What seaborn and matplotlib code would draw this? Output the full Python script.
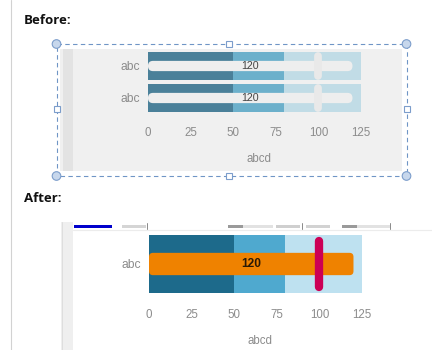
import matplotlib
matplotlib.use("Agg")
import matplotlib.pyplot as plt
from matplotlib.patches import Rectangle, Circle, FancyBboxPatch
import seaborn as sns

sns.set_theme(style="white")
plt.rcParams["font.family"] = ["Liberation Sans", "DejaVu Sans"]

# ---- data ----
before_rows = ["abc", "abc"]
before_values = [120, 120]
before_targets = [100, 100]

after_rows = ["abc"]
after_values = [120]
after_targets = [100]

range_bounds = [50, 80, 125]          # poor / satisfactory / good
x_ticks = [0, 25, 50, 75, 100, 125]
axis_title = "abcd"

W, H = 432, 350
fig = plt.figure(figsize=(W / 100, H / 100), dpi=100)
fig.patch.set_facecolor("white")


def rect_px(x0, y0, x1, y1):
    return [x0 / W, 1 - y1 / H, (x1 - x0) / W, (y1 - y0) / H]


# page decorations drawn in pixel space
bg = fig.add_axes([0, 0, 1, 1], zorder=0)
bg.set_xlim(0, W)
bg.set_ylim(H, 0)
bg.axis("off")

bg.plot([10.5, 10.5], [0, H], color="#d2d2d2", lw=0.8)
heading = dict(family=["Open Sans", "DejaVu Sans"], fontweight="bold",
               fontsize=9.5, color="#111111", va="center", ha="left")
bg.text(24, 20, "Before:", **heading)
bg.text(24, 198, "After:", **heading)

# "Before" panel with selection frame
bg.add_patch(Rectangle((60, 49), 342, 122, fc="#f0f0f0", ec="none"))
bg.add_patch(Rectangle((63, 49), 10, 122, fc="#e3e3e3", ec="none"))
bg.add_patch(Rectangle((56.5, 44), 350, 132, fc="none", ec="#6f95c6",
                       lw=0.8, linestyle=(0, (4, 3))))
for cx, cy in [(56.5, 44), (406.5, 44), (56.5, 176), (406.5, 176)]:
    bg.add_patch(Circle((cx, cy), 4.3, fc="#c7d7ec", ec="#7c9dcb", lw=0.8))
for cx, cy in [(229, 44), (229, 176), (56.5, 109), (406.5, 109)]:
    bg.add_patch(Rectangle((cx - 3, cy - 3), 6, 6, fc="white", ec="#7c9dcb", lw=0.8))

# "After" panel: side strip and clipped toolbar row
bg.add_patch(Rectangle((61, 222), 12, H - 222, fc="#efefef", ec="none"))
bg.plot([61.5, 61.5], [222, H], color="#dedede", lw=0.7)
bg.plot([73, W], [230, 230], color="#ececec", lw=0.8)
bg.add_patch(Rectangle((74, 224.5), 38, 3.5, fc="#0000cc", ec="none"))
for x0, x1, c in [(122, 146, "#d5d5d5"), (228, 273, "#e2e2e2"), (228, 243, "#9a9a9a"),
                  (276, 300, "#cfcfcf"), (306, 330, "#d2d2d2"), (342, 390, "#e2e2e2"),
                  (342, 357, "#9a9a9a")]:
    bg.add_patch(Rectangle((x0, 225), x1 - x0, 3, fc=c, ec="none"))
for xt in [147, 302, 390]:
    bg.plot([xt, xt], [223, 229], color="#8a8a8a", lw=0.7)


def bullet(ax, labels, values, targets, band_colors, band_w, bar_w, bar_color,
           bar_radius_px, target_color, target_lw, target_half, value_style):
    keys = [str(i) for i in range(len(labels))]
    for bound, col in sorted(zip(range_bounds, band_colors), reverse=True):
        sns.barplot(x=[bound] * len(keys), y=keys, order=keys, orient="h",
                    color=col, saturation=1, width=band_w, errorbar=None,
                    linewidth=0, ax=ax)
    sns.barplot(x=values, y=keys, order=keys, orient="h", color=bar_color,
                saturation=1, width=bar_w, errorbar=None, linewidth=0, ax=ax)
    ax.set_xlim(0, 125)
    ax.set_ylim(len(keys) - 0.5, -0.5)
    fig.canvas.draw()
    bb = ax.get_window_extent()
    px_x = bb.width / 125
    px_y = bb.height / len(keys)
    bars = ax.containers[-1]
    for rect in bars:
        rect.set_visible(False)
        r = bar_radius_px / px_x
        ax.add_patch(FancyBboxPatch((rect.get_x(), rect.get_y()), rect.get_width(),
                                    rect.get_height(),
                                    boxstyle=f"round,pad=0,rounding_size={r}",
                                    mutation_aspect=px_x / px_y,
                                    fc=bar_color, ec="none", zorder=3))
    ax.bar_label(bars, labels=[str(v) for v in values], label_type="center",
                 zorder=5, **value_style)
    for i, t in enumerate(targets):
        ax.plot([t, t], [i - target_half, i + target_half], color=target_color,
                lw=target_lw, solid_capstyle="round", zorder=4)
    ax.set_yticks(range(len(keys)), labels)
    ax.set_xticks(x_ticks, [str(t) for t in x_ticks])
    ax.set_xlabel(axis_title, fontsize=8.3, color="#8c8c8c")
    ax.set_ylabel("")
    ax.xaxis.label.set_va("center")
    sns.despine(ax=ax, left=True, bottom=True)
    ax.tick_params(axis="y", length=0, pad=6, labelsize=8.7, labelcolor="#8c8c8c")
    ax.tick_params(axis="x", length=0, labelsize=8.3, labelcolor="#8c8c8c")


# before: two rows on the grey panel
ax1 = fig.add_axes(rect_px(148, 50, 361, 114), zorder=2)
ax1.patch.set_alpha(0)
bullet(ax1, before_rows, before_values, before_targets,
       ["#4a8099", "#6cb0cb", "#c1dce6"], band_w=0.875, bar_w=0.32,
       bar_color="#eeeeee", bar_radius_px=5, target_color="#e9e9e9",
       target_lw=5.6, target_half=0.31,
       value_style=dict(fontsize=7.7, color="#444444"))
ax1.tick_params(axis="x", pad=9)
ax1.xaxis.set_label_coords(0.52, -0.70)

# after: one row on white
ax2 = fig.add_axes(rect_px(149, 233, 362, 295), zorder=2)
ax2.patch.set_alpha(0)
bullet(ax2, after_rows, after_values, after_targets,
       ["#1d6a8b", "#4fa9cf", "#bee1f0"], band_w=0.935, bar_w=0.36,
       bar_color="#ef8200", bar_radius_px=4, target_color="#cc0055",
       target_lw=6.0, target_half=0.37,
       value_style=dict(fontsize=8.6, color="#2a1a05", fontweight="bold"))
ax2.tick_params(axis="x", pad=10)
ax2.xaxis.set_label_coords(0.52, -0.74)

fig.savefig("out.png", dpi=100)
